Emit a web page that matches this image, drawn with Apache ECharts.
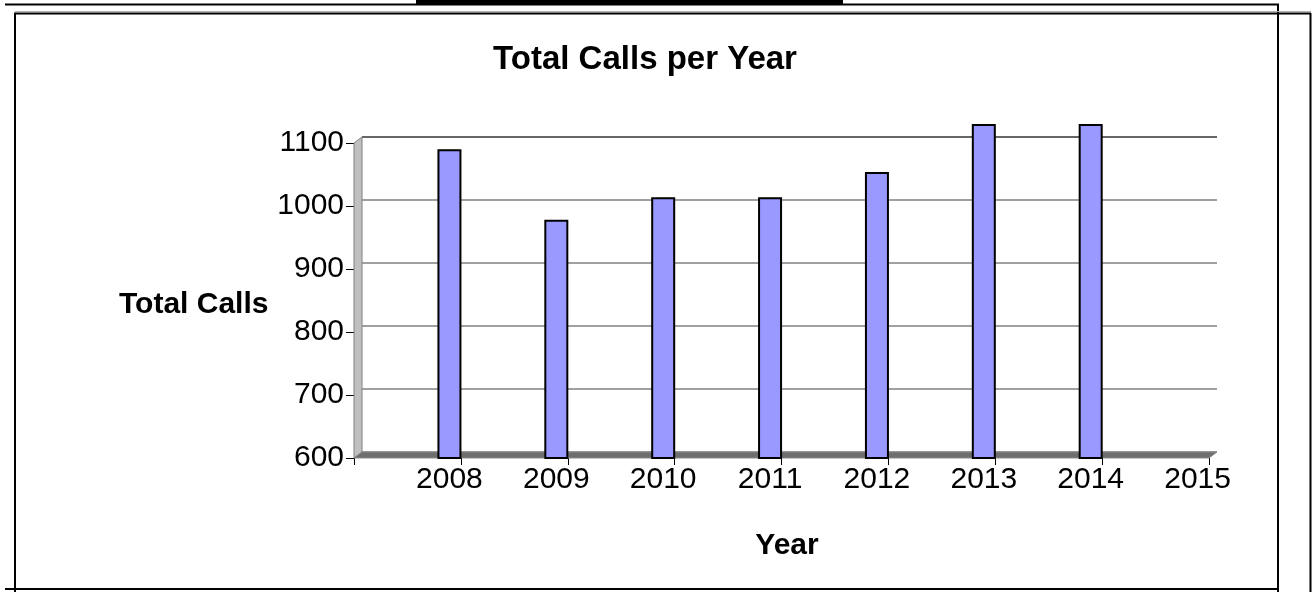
<!DOCTYPE html>
<html>
<head>
<meta charset="utf-8">
<title>Total Calls per Year</title>
<script src="https://cdn.jsdelivr.net/npm/echarts@6/dist/echarts.min.js"></script>
<style>
  html, body { margin: 0; padding: 0; background: #fff; }
  #main { width: 1312px; height: 592px; }
</style>
</head>
<body>
<div id="main"></div>
<script>
// data
var years = ['2008', '2009', '2010', '2011', '2012', '2013', '2014', '2015'];
var totalCalls = [1090, 978, 1014, 1014, 1054, 1130, 1130, null];
var yTicks = [600, 700, 800, 900, 1000, 1100];

var font = "'Liberation Sans', Arial, sans-serif";

// 基于准备好的dom，初始化echarts实例
var myChart = echarts.init(document.getElementById('main'));

// back wall grid lines, top line darker like the wall edge
var wallColors = yTicks.map(function (v, i) {
    return i === yTicks.length - 1 ? '#333333' : '#808080';
});

// the bars go past the 1100 tick, so they sit on their own hidden axis
// with the same scale (315px per 500) stretched up to 1150
var front = { left: 354, top: 143, width: 855, height: 315 };
var pxPerUnit = front.height / 500;

var option = {
    backgroundColor: '#ffffff',
    animation: false,
    title: [
        {
            text: 'Total Calls per Year',
            left: 640, top: 38, textAlign: 'center',
            textStyle: { fontFamily: font, fontSize: 33, fontWeight: 'bold', color: '#000' }
        },
        {
            text: 'Total Calls',
            left: 114, top: 285,
            textStyle: { fontFamily: font, fontSize: 30, fontWeight: 'bold', color: '#000' }
        },
        {
            text: 'Year',
            left: 782, top: 526, textAlign: 'center',
            textStyle: { fontFamily: font, fontSize: 30, fontWeight: 'bold', color: '#000' }
        }
    ],
    grid: [
        front,                                               // front plane
        { left: 362, top: 137, width: 855, height: 315 },    // back wall
        {
            left: front.left, width: front.width,
            top: front.top - 50 * pxPerUnit,
            height: front.height + 50 * pxPerUnit
        }                                                     // bars
    ],
    xAxis: [
        {
            gridIndex: 0,
            type: 'category',
            data: years,
            boundaryGap: true,
            axisLine: { show: false },
            axisTick: { show: true, length: 7, interval: 0, lineStyle: { color: '#000' } },
            axisLabel: {
                interval: 0, margin: 7, color: '#000',
                fontFamily: font, fontSize: 30,
                padding: [0, 0, 0, 84]
            },
            splitLine: { show: false }
        },
        { gridIndex: 1, type: 'category', data: years, show: false },
        { gridIndex: 2, type: 'category', data: years, show: false }
    ],
    yAxis: [
        {
            gridIndex: 0,
            type: 'value',
            min: 600, max: 1100, interval: 100,
            axisLine: { show: true, lineStyle: { color: '#000', width: 1 } },
            axisTick: { show: true, length: 8, lineStyle: { color: '#000' } },
            axisLabel: {
                margin: 10, color: '#000', fontFamily: font, fontSize: 30,
                formatter: function (v) { return String(v); }
            },
            splitLine: { show: false }
        },
        {
            gridIndex: 1,
            type: 'value',
            min: 600, max: 1100, interval: 100,
            axisLine: { show: false },
            axisTick: { show: false },
            axisLabel: { show: false },
            splitLine: { show: true, lineStyle: { color: wallColors, width: 1.5 } }
        },
        { gridIndex: 2, type: 'value', min: 600, max: 1150, show: false }
    ],
    series: [
        {
            // empty series, only pushes the real bar to the right like the original
            name: 'spacer',
            type: 'bar',
            xAxisIndex: 2, yAxisIndex: 2,
            data: [],
            barWidth: 24,
            barGap: '250%'
        },
        {
            name: 'Total Calls',
            type: 'bar',
            xAxisIndex: 2, yAxisIndex: 2,
            data: totalCalls,
            barWidth: 24,
            barGap: '250%',
            z: 5,
            itemStyle: { color: '#9999ff', borderColor: '#000', borderWidth: 2 }
        }
    ],
    graphic: [
        // side wall and floor of the 3-D look
        {
            type: 'polygon', z: 1, silent: true,
            shape: { points: [[354, 143], [362, 137], [362, 452], [354, 458]] },
            style: { fill: '#c0c0c0', stroke: '#808080', lineWidth: 1 }
        },
        {
            type: 'polygon', z: 1, silent: true,
            shape: { points: [[354, 458], [362, 452], [1217, 452], [1209, 458]] },
            style: { fill: '#6e6e6e', stroke: '#8a8a8a', lineWidth: 1 }
        },
        // page frame lines around the chart
        { type: 'rect', z: 10, shape: { x: 416, y: 0, width: 427, height: 4 }, style: { fill: '#000' } },
        { type: 'line', z: 10, shape: { x1: 5, y1: 4.5, x2: 1279, y2: 4.5 }, style: { stroke: '#000', lineWidth: 2 } },
        { type: 'line', z: 10, shape: { x1: 1278, y1: 4, x2: 1278, y2: 592 }, style: { stroke: '#000', lineWidth: 2 } },
        { type: 'line', z: 10, shape: { x1: 5, y1: 589, x2: 1279, y2: 589 }, style: { stroke: '#000', lineWidth: 2 } },
        { type: 'line', z: 10, shape: { x1: 15, y1: 11.5, x2: 1311, y2: 11.5 }, style: { stroke: '#b0b0b0', lineWidth: 1 } },
        { type: 'line', z: 10, shape: { x1: 14, y1: 13.5, x2: 1311, y2: 13.5 }, style: { stroke: '#000', lineWidth: 2 } },
        { type: 'line', z: 10, shape: { x1: 15, y1: 13, x2: 15, y2: 592 }, style: { stroke: '#000', lineWidth: 2 } },
        { type: 'line', z: 10, shape: { x1: 1310.5, y1: 13, x2: 1310.5, y2: 592 }, style: { stroke: '#000', lineWidth: 2 } }
    ]
};
myChart.setOption(option);
</script>
</body>
</html>
